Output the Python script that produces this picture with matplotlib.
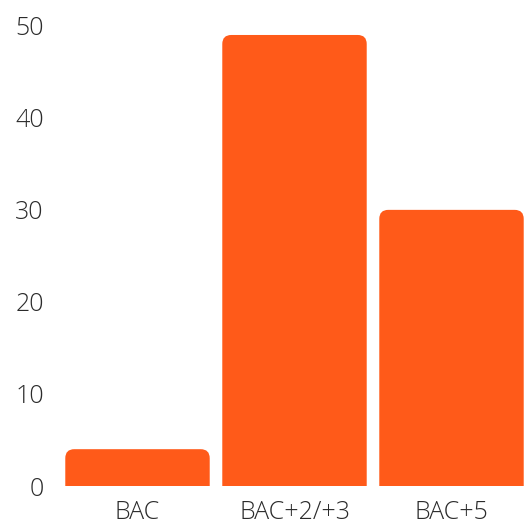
import matplotlib
matplotlib.use("Agg")
import matplotlib.pyplot as plt
from matplotlib.patches import FancyBboxPatch

categories = ["BAC", "BAC+2/+3", "BAC+5"]
values = [4, 49, 30]
yticks = [0, 10, 20, 30, 40, 50]

BAR_COLOR = "#FF5A19"
TEXT_COLOR = "#2b2b2b"

plt.rcParams['font.family'] = ['Open Sans', 'DejaVu Sans']
plt.rcParams['font.weight'] = 'light'

W, H = 524, 526
fig = plt.figure(figsize=(W / 100, H / 100), dpi=100)
ax = fig.add_axes([59 / W, 40 / H, 1 - 59 / W, 1 - 40 / H])

x = list(range(len(categories)))
bars = ax.bar(x, values, width=0.92, color="none", edgecolor="none")

ax.set_xlim(-0.5, -0.5 + 465 / 157)
ax.set_ylim(0, 52.8)

fig.canvas.draw()
p0 = ax.transData.transform((0, 0))
p1 = ax.transData.transform((1, 1))
sx = p1[0] - p0[0]
sy = p1[1] - p0[1]
radius_px = 9
r_x = radius_px / sx
aspect = (radius_px / sy) / r_x

for b in bars:
    bx, bw, bh = b.get_x(), b.get_width(), b.get_height()
    extra = 3.0
    patch = FancyBboxPatch((bx, -extra), bw, bh + extra,
                           boxstyle=f"round,pad=0,rounding_size={r_x}",
                           mutation_aspect=aspect,
                           facecolor=BAR_COLOR, edgecolor="none",
                           clip_on=True)
    ax.add_patch(patch)

ax.set_xticks(x)
ax.set_xticklabels(categories)
ax.set_yticks(yticks)
ax.tick_params(axis="both", length=0, labelsize=18, colors=TEXT_COLOR)
ax.tick_params(axis="y", pad=11)
ax.tick_params(axis="x", pad=10)
for lab in ax.get_xticklabels() + ax.get_yticklabels():
    lab.set_fontweight('light')
for s in ax.spines.values():
    s.set_visible(False)
ax.set_facecolor("white")

fig.savefig("out.png", dpi=100, facecolor="white")
